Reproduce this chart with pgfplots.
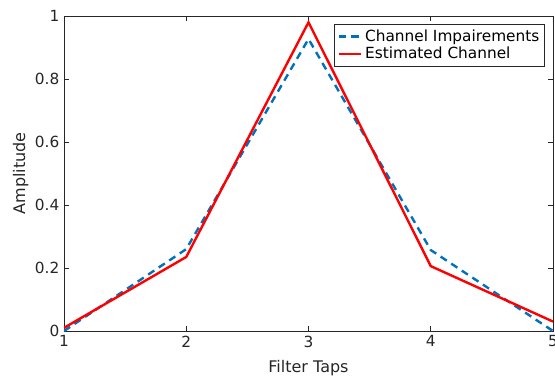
\documentclass[border=0pt]{standalone}
\usepackage{pgfplots}
\pgfplotsset{compat=1.18}
\usepackage{fontspec}
\setmainfont{DejaVu Sans}
\definecolor{mblue}{rgb}{0,0.447,0.741}
\definecolor{axgray}{rgb}{0.15,0.15,0.15}
\begin{document}
\begin{tikzpicture}
\begin{axis}[
  scale only axis,
  width=366.75pt, height=236.25pt,
  xmin=1, xmax=5, ymin=0, ymax=1,
  xtick={1,2,3,4,5},
  ytick={0,0.2,0.4,0.6,0.8,1},
  yticklabels={0,0.2,0.4,0.6,0.8,1},
  tick align=inside,
  major tick length=4pt,
  axis line style={axgray, line width=0.5pt},
  every tick/.style={axgray, line width=0.5pt},
  tick label style={font=\fontsize{11.5}{13}\selectfont, text=axgray},
  label style={font=\fontsize{12}{14}\selectfont, text=axgray},
  xlabel={Filter Taps},
  ylabel={Amplitude},
  xlabel style={yshift=-3pt},
  ylabel style={yshift=-2pt},
  /pgf/number format/assume math mode=true,
  legend style={at={(1,1)}, anchor=north east, xshift=-6pt, yshift=-6pt,
    font=\fontsize{11.5}{13}\selectfont, draw=axgray, line width=0.5pt,
    inner xsep=2pt, inner ysep=2pt, row sep=-1pt, cells={anchor=west}},
  legend cell align=left,
  legend image code/.code={\draw[#1] (0cm,0cm) -- (0.6cm,0cm);},
]
\addplot[mblue, line width=1.8pt, dash pattern=on 5.5pt off 4pt] coordinates {
(1,0.0) (2,0.26) (3,0.927) (4,0.257) (5,0.0)};
\addlegendentry{Channel Impairements}
\addplot[red, line width=1.8pt] coordinates {
(1,0.01) (2,0.235) (3,0.98) (4,0.206) (5,0.03)};
\addlegendentry{Estimated Channel}
\end{axis}
\pgfresetboundingbox
\useasboundingbox ([shift={(-48pt,-37.5pt)}]current axis.south west) rectangle ([shift={(1.5pt,12pt)}]current axis.north east);
\end{tikzpicture}
\end{document}
